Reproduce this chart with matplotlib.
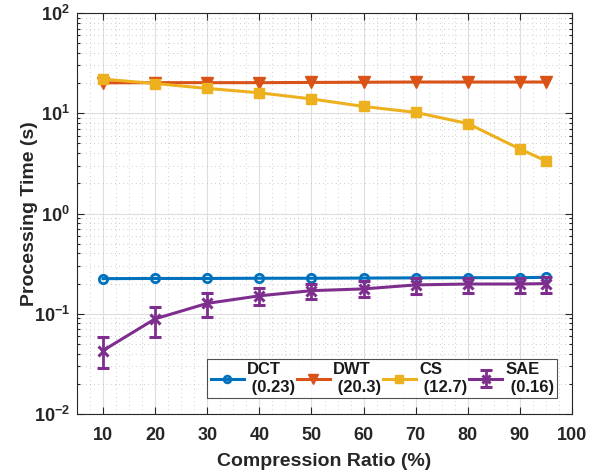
import matplotlib
matplotlib.use("Agg")
import matplotlib.pyplot as plt
from matplotlib.ticker import LogLocator, MultipleLocator, NullFormatter

plt.rcParams["font.family"] = ["Liberation Sans", "DejaVu Sans"]
plt.rcParams["font.weight"] = "bold"
plt.rcParams["mathtext.default"] = "bf"

ratio = [10, 20, 30, 40, 50, 60, 70, 80, 90, 95]
dct = [0.224, 0.225, 0.225, 0.226, 0.226, 0.227, 0.228, 0.229, 0.229, 0.231]
dwt = [20.1, 20.2, 20.2, 20.2, 20.3, 20.4, 20.5, 20.5, 20.5, 20.5]
cs = [21.9, 19.8, 17.7, 16.0, 13.9, 11.7, 10.2, 7.9, 4.4, 3.35]
sae = [0.043, 0.089, 0.127, 0.151, 0.170, 0.177, 0.194, 0.198, 0.198, 0.200]
sae_low = [0.029, 0.058, 0.092, 0.122, 0.140, 0.146, 0.157, 0.160, 0.160, 0.162]
sae_high = [0.058, 0.116, 0.160, 0.179, 0.198, 0.210, 0.226, 0.229, 0.229, 0.232]

labels = ["DCT\n (0.23)", "DWT\n (20.3)", "CS\n (12.7)", "SAE\n (0.16)"]
colors = ["#0072BD", "#D95319", "#EDB120", "#7E2F8E"]

fig = plt.figure(figsize=(5.99, 4.75), dpi=100)
ax = fig.add_axes([0.1285, 0.1284, 0.8265, 0.8442])

ax.plot(ratio, dct, color=colors[0], lw=2.2, marker="o", ms=6, mfc="none", mew=2, label=labels[0])
ax.plot(ratio, dwt, color=colors[1], lw=2.2, marker="v", ms=8.5, label=labels[1])
ax.plot(ratio, cs, color=colors[2], lw=2.2, marker="s", ms=7, label=labels[2])
err = [[m - lo for m, lo in zip(sae, sae_low)], [hi - m for m, hi in zip(sae, sae_high)]]
ax.errorbar(ratio, sae, yerr=err, color=colors[3], lw=2.2, marker="x", ms=6.5, mew=2.2,
            capsize=4, capthick=2, elinewidth=2, label=labels[3])

ax.set_yscale("log")
ax.set_xlim(5, 100)
ax.set_ylim(1e-2, 1e2)
ax.set_xticks(range(10, 101, 10))
ax.xaxis.set_minor_locator(MultipleLocator(2.5))
ax.yaxis.set_major_locator(LogLocator(base=10, numticks=10))
ax.yaxis.set_minor_locator(LogLocator(base=10, subs=range(2, 10), numticks=10))
ax.yaxis.set_minor_formatter(NullFormatter())

ax.grid(which="major", color="#dedede", lw=0.8, ls="-")
ax.grid(which="minor", color="#bdbdbd", lw=0.6, ls=(0, (1, 4)))
ax.set_axisbelow(True)

ax.tick_params(which="both", direction="in", top=True, right=True, colors="#262626",
               labelsize=13, width=0.8)
ax.tick_params(which="major", length=5)
ax.tick_params(which="minor", length=2.5)
ax.tick_params(axis="x", which="minor", length=0)
ax.tick_params(axis="x", which="major", pad=9)
ax.tick_params(axis="y", which="major", pad=5)
for s in ax.spines.values():
    s.set_color("#262626")
    s.set_linewidth(0.8)

ax.set_xlabel("Compression Ratio (%)", fontsize=14, fontweight="bold", color="#262626", labelpad=7)
ax.set_ylabel("Processing Time (s)", fontsize=14, fontweight="bold", color="#262626", labelpad=-3)

leg = ax.legend(loc="lower right", bbox_to_anchor=(0.263, 0.04, 0.707, 0.115), mode="expand",
                ncol=4, fontsize=12, frameon=True, fancybox=False, borderaxespad=0,
                handlelength=2.0, handletextpad=0.2, columnspacing=0.3, borderpad=0.2,
                markerscale=0.8)
leg.get_frame().set_edgecolor("#262626")
leg.get_frame().set_linewidth(0.8)
for t in leg.get_texts():
    t.set_color("#1a1a1a")

fig.savefig("out.png", dpi=100)
